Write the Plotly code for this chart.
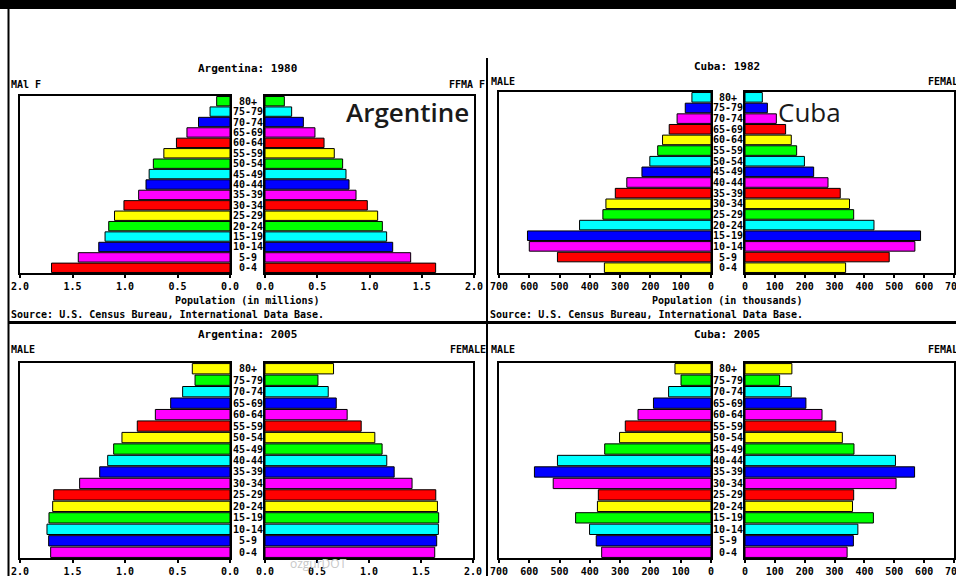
import plotly.graph_objects as go

W, H = 956, 576

AGES = ["0-4", "5-9", "10-14", "15-19", "20-24", "25-29", "30-34", "35-39", "40-44",
        "45-49", "50-54", "55-59", "60-64", "65-69", "70-74", "75-79", "80+"]

# Argentina 1980, millions
ARG80_MALE = [1.70, 1.445, 1.25, 1.19, 1.155, 1.10, 1.01, 0.87, 0.80, 0.77, 0.73, 0.63,
              0.51, 0.41, 0.30, 0.19, 0.127]
ARG80_FEMALE = [1.633, 1.394, 1.222, 1.164, 1.123, 1.078, 0.979, 0.871, 0.804, 0.775, 0.743,
                0.663, 0.565, 0.478, 0.367, 0.255, 0.185]
# Cuba 1982, thousands
CUBA82_MALE = [352, 507, 600, 606, 434, 357, 347, 316, 278, 228, 202, 176, 160, 138, 112, 85, 63]
CUBA82_FEMALE = [337, 483, 569, 588, 432, 364, 350, 319, 278, 230, 199, 173, 155, 136, 105, 75, 58]
# Argentina 2005, millions
ARG05_MALE = [1.708, 1.727, 1.743, 1.724, 1.689, 1.679, 1.432, 1.241, 1.165, 1.108, 1.029,
              0.883, 0.711, 0.565, 0.451, 0.333, 0.359]
ARG05_FEMALE = [1.632, 1.651, 1.667, 1.670, 1.658, 1.642, 1.414, 1.242, 1.171, 1.126, 1.056,
                0.925, 0.790, 0.685, 0.608, 0.509, 0.659]
# Cuba 2005, thousands
CUBA05_MALE = [361, 379, 401, 447, 375, 372, 521, 583, 507, 351, 302, 283, 241, 190, 140, 99, 119]
CUBA05_FEMALE = [342, 363, 378, 430, 360, 364, 506, 568, 504, 365, 326, 304, 258, 204, 155, 116, 157]

MILLION_TICKS = [0, 0.5, 1.0, 1.5, 2.0]
MILLION_TEXT = ["0.0", "0.5", "1.0", "1.5", "2.0"]
THOUSAND_TICKS = [0, 100, 200, 300, 400, 500, 600, 700]
THOUSAND_TEXT = ["0", "100", "200", "300", "400", "500", "600", "700"]

CYCLE = ["#ff0000", "#ff00ff", "#0000ff", "#00ffff", "#00ff00", "#ffff00"]
MONO = "DejaVu Sans Mono"


def cycle_colors(start):
    return [CYCLE[(start + i) % 6] for i in range(len(AGES))]


def px_x(v):
    return v / W


def px_y(v):
    return 1 - v / H


# (male, female, max, ticks, ticktext, color start, left box, right box, top, bottom)
panels = [
    (ARG80_MALE, ARG80_FEMALE, 2.0, MILLION_TICKS, MILLION_TEXT, 0, (20, 230), (265, 474), 96, 273),
    (CUBA82_MALE, CUBA82_FEMALE, 700, THOUSAND_TICKS, THOUSAND_TEXT, 5, (499, 711), (745, 954), 92, 273),
    (ARG05_MALE, ARG05_FEMALE, 2.0, MILLION_TICKS, MILLION_TEXT, 1, (20, 230), (265, 473), 363, 558),
    (CUBA05_MALE, CUBA05_FEMALE, 700, THOUSAND_TICKS, THOUSAND_TEXT, 1, (499, 711), (745, 954), 363, 558),
]

fig = go.Figure()
layout = {}
annotations = []
n = 0
for male, female, vmax, tv, tt, cstart, lbox, rbox, top, bottom in panels:
    cols = cycle_colors(cstart)
    for side, vals, box in (("L", male, lbox), ("R", female, rbox)):
        n += 1
        xa, ya = f"x{n}", f"y{n}"
        fig.add_trace(go.Bar(
            x=vals, y=AGES, orientation="h", xaxis=xa, yaxis=ya, width=0.9,
            marker=dict(color=cols, line=dict(color="black", width=1)),
            showlegend=False, hoverinfo="x+y",
        ))
        rng = [vmax, 0] if side == "L" else [0, vmax]
        layout[f"xaxis{n}"] = dict(
            domain=[px_x(box[0]), px_x(box[1])], anchor=ya, range=rng, automargin=False,
            tickvals=tv, ticktext=tt, showgrid=False, zeroline=False, ticklabeloverflow="allow",
            showline=True, mirror=True, linecolor="black", linewidth=2,
            ticks="outside", ticklen=3, tickwidth=2, tickcolor="black",
            tickfont=dict(family=MONO, size=10, color="black", weight="bold"),
            fixedrange=True,
        )
        layout[f"yaxis{n}"] = dict(
            domain=[px_y(bottom), px_y(top)], anchor=xa, type="category", automargin=False,
            categoryorder="array", categoryarray=AGES, range=[-0.5, len(AGES) - 0.5],
            showticklabels=False, ticks="", showgrid=False, zeroline=False,
            showline=True, mirror=True, linecolor="black", linewidth=2,
            fixedrange=True,
        )
    # age labels between halves
    mid = (lbox[1] + rbox[0]) / 2
    for age in AGES:
        annotations.append(dict(
            x=px_x(mid), xref="paper", y=age, yref=f"y{n}", text=age, showarrow=False,
            xanchor="center", yanchor="middle",
            font=dict(family=MONO, size=10, color="black", weight="bold"),
        ))


def label(text, x, y, size=10, anchor="center", **font):
    f = dict(family=MONO, size=size, color="black", weight="bold")
    f.update(font)
    annotations.append(dict(x=px_x(x), y=px_y(y), xref="paper", yref="paper", text=text,
                            showarrow=False, xanchor=anchor, yanchor="middle", font=f))


label("Argentina: 1980", 247, 68, size=11)
label("Cuba: 1982", 727, 66, size=11)
label("Argentina: 2005", 247, 334, size=11)
label("Cuba: 2005", 727, 334, size=11)

label("MAl F", 9, 84, anchor="left")
label("FFMA F", 447, 84, anchor="left")
label("MALE", 489, 81, anchor="left")
label("FEMALE", 926, 81, anchor="left")
label("MALE", 9, 349, anchor="left")
label("FEMALE", 448, 349, anchor="left")
label("MALE", 489, 349, anchor="left")
label("FEMALE", 926, 349, anchor="left")

label("Population (in millions)", 247, 300)
label("Population (in thousands)", 727, 300)
label("Source: U.S. Census Bureau, International Data Base.", 9, 314, anchor="left")
label("Source: U.S. Census Bureau, International Data Base.", 488, 314, anchor="left")

label("Argentine", 407, 112, size=26, family="Open Sans", weight=600, color="#1a1a1a")
label("Cuba", 809, 112, size=26, family="Open Sans", weight=500, color="#1a1a1a")
label("ozgurDOT", 318, 563, size=12, family="Open Sans", weight=400, color="#c8c8c8")

shapes = [
    dict(type="rect", xref="paper", yref="paper", x0=0, x1=1, y0=px_y(9), y1=1,
         fillcolor="black", line=dict(width=0)),
    dict(type="line", xref="paper", yref="paper", x0=px_x(8.5), x1=px_x(8.5), y0=0, y1=px_y(9),
         line=dict(color="black", width=2)),
    dict(type="line", xref="paper", yref="paper", x0=px_x(8), x1=1, y0=px_y(322.5), y1=px_y(322.5),
         line=dict(color="black", width=3)),
    dict(type="line", xref="paper", yref="paper", x0=px_x(487), x1=px_x(487), y0=0, y1=px_y(58),
         line=dict(color="black", width=2)),
]

fig.update_layout(
    width=W, height=H, margin=dict(l=0, r=0, t=0, b=0, autoexpand=False),
    paper_bgcolor="white", plot_bgcolor="white",
    annotations=annotations, shapes=shapes, bargap=0.1,
    **layout,
)

fig.write_html(
    "out.html",
    config={"responsive": False, "displayModeBar": False},
    post_script="document.body.style.margin='0';document.body.style.overflow='hidden';",
)
